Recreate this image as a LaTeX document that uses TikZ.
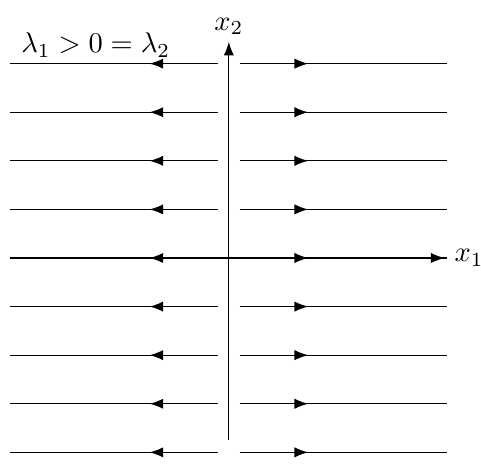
\documentclass[tikz,border=0pt]{standalone}
\usepackage{amsmath,amssymb}
\usetikzlibrary{arrows.meta,decorations.markings,positioning}

\begin{document}
\begin{tikzpicture}[x=0.6cm, y=0.6cm,
  flow/.style={postaction={decorate},
    decoration={markings, mark=at position 0.33 with {\arrow{Latex}}}},
  axis/.style={-{Latex}}]
  \useasboundingbox (-4.71,-4.36) rectangle (5.19,5.31);
  % trajectories
  \foreach \y in {-4,...,4} {
    \coordinate (lin\y) at (-0.22,\y);
    \coordinate (lout\y) at (-4.5,\y);
    \coordinate (rin\y) at (0.22,\y);
    \coordinate (rout\y) at (4.5,\y);
    \draw[flow] (lin\y) -- (lout\y);
    \draw[flow] (rin\y) -- (rout\y);
  }
  % axes
  \coordinate (xstart) at (-4.5,0);
  \coordinate (xend) at (4.44,0);
  \coordinate (ystart) at (0,-3.74);
  \coordinate (yend) at (0,4.45);
  \draw[axis] (xstart) -- (xend);
  \draw[axis] (ystart) -- (yend);
  \node[right=0pt of xend] (xlab) {$x_1$};
  \node[above=-1pt of yend] (ylab) {$x_2$};
  \node (eig) at (-2.74,4.38) {$\lambda_1 > 0 = \lambda_2$};
\end{tikzpicture}
\end{document}
